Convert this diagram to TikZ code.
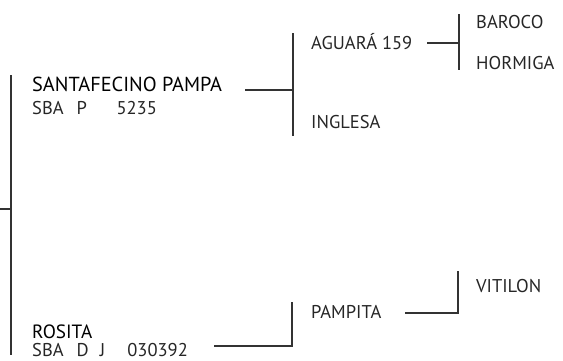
\documentclass[tikz,border=0pt]{standalone}
\usepackage{fontspec}
\setmainfont{PT Sans}
\begin{document}
\begin{tikzpicture}[x=1pt,y=-1pt,
  lbl/.style={anchor=base west,inner sep=0pt,font=\fontsize{18.5}{20}\selectfont,text=black!85},
  dogname/.style={anchor=base west,inner sep=0pt,font=\fontsize{20.3}{22}\selectfont,text=black},
  ln/.style={draw=black!80,line width=1.2pt}]
\useasboundingbox (0,0) rectangle (563,360);
% texts
\node[dogname] (sp) at (32,91) {SANTAFECINO PAMPA};
\node[lbl] (spc) at (32,114) {SBA\hspace{0.7em}P\hspace{1.6em}5235};
\node[dogname,font=\fontsize{19.2}{21}\selectfont] (ro) at (32,338) {ROSITA};
\node[lbl] (roc) at (32,356) {SBA\hspace{0.7em}D\hspace{0.6em}J\hspace{1.2em}030392};
\node[lbl] (ag) at (311,49) {AGUARÁ 159};
\node[lbl] (in) at (311,128) {INGLESA};
\node[lbl] (ba) at (476,28) {BAROCO};
\node[lbl] (ho) at (476,69) {HORMIGA};
\node[lbl] (pa) at (311,318) {PAMPITA};
\node[lbl] (vi) at (476,292) {VITILON};
% coordinates
\coordinate (root) at (0,209);
\coordinate (v1t) at (11,75);
\coordinate (v1b) at (11,355);
\coordinate (s1) at (245,90);
\coordinate (s2) at (293,90);
\coordinate (v2t) at (293,33);
\coordinate (v2b) at (293,136);
\coordinate (a1) at (427,43);
\coordinate (a2) at (459,43);
\coordinate (v3t) at (459,14);
\coordinate (v3b) at (459,70);
\coordinate (r1) at (214,346);
\coordinate (r2) at (292,346);
\coordinate (v4t) at (292,302);
\coordinate (p1) at (405,313);
\coordinate (p2) at (458,313);
\coordinate (v5t) at (458,271);
% lines
\draw[ln] (root) -- (11,209);
\draw[ln] (v1t) -- (v1b);
\draw[ln] (s1) -- (s2);
\draw[ln] (v2t) -- (v2b);
\draw[ln] (a1) -- (a2);
\draw[ln] (v3t) -- (v3b);
\draw[ln] (r1) -- (r2) -- (v4t);
\draw[ln] (p1) -- (p2) -- (v5t);
\end{tikzpicture}
\end{document}
